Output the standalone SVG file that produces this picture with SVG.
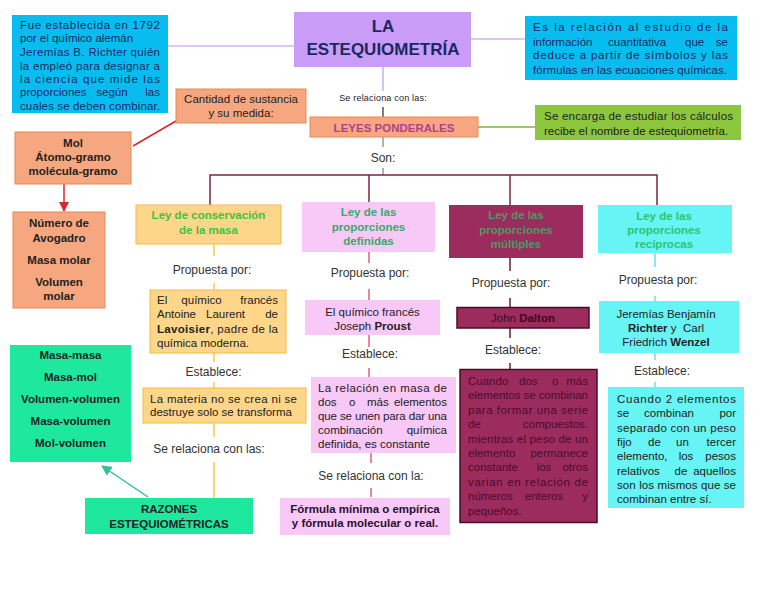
<svg xmlns="http://www.w3.org/2000/svg" width="768" height="594" viewBox="0 0 768 594">
<defs>
<style>
text{font-family:"Liberation Sans",Arial,sans-serif;font-size:11.5px;fill:#222}
.b{font-weight:bold}
.c{text-anchor:middle}
.e{text-anchor:end}
.lbl{font-size:12px;fill:#333}
.navy{fill:#1b2862}
.blue{fill:#07bdf0}
.salmon{fill:#f6a77f;stroke:#e58a56;stroke-width:1}
.yel{fill:#fdd68a;stroke:#f5ba45;stroke-width:1}
.pink{fill:#f8c8f6}
.mar{fill:#9c2b5e}
.cyan{fill:#66f4f4}
.mint{fill:#1ee89e}
.dk{fill:#4d0b2a}
.conn line,.conn polyline{fill:none;stroke-width:1.5}
</style>
<marker id="ar" viewBox="0 0 10 10" refX="9" refY="5" markerWidth="7" markerHeight="7" orient="auto"><path d="M0,0L10,5L0,10z" fill="#d9262c"/></marker>
<marker id="at" viewBox="0 0 10 10" refX="9" refY="5" markerWidth="7" markerHeight="7" orient="auto"><path d="M0,0L10,5L0,10z" fill="#2fbf9f"/></marker>
</defs>
<rect width="768" height="594" fill="#fff"/>

<g class="conn">
<line x1="168" y1="46" x2="294" y2="46" stroke="#d4b3f0"/>
<line x1="471" y1="39" x2="525" y2="39" stroke="#d4b3f0"/>
<line x1="383" y1="67" x2="383" y2="91" stroke="#c9b0f0"/>
<line x1="383" y1="107" x2="383" y2="117" stroke="#555"/>
<line x1="383" y1="137" x2="383" y2="147" stroke="#999"/>
<line x1="383" y1="168" x2="383" y2="175" stroke="#999"/>
<line x1="478" y1="127" x2="535" y2="127" stroke="#7cb342"/>
<line x1="176" y1="121" x2="133" y2="146" stroke="#d9262c"/>
<line x1="64" y1="184" x2="64" y2="211" stroke="#d9262c" marker-end="url(#ar)"/>
<line x1="148" y1="497" x2="102" y2="466" stroke="#2fbf9f" marker-end="url(#at)"/>
<polyline points="210,205 210,175 657,175 657,205" stroke="#7a2448" stroke-width="2"/>
<line x1="369" y1="175" x2="369" y2="202" stroke="#7a2448" stroke-width="2"/>
<line x1="510" y1="175" x2="510" y2="205" stroke="#7a2448" stroke-width="2"/>
<g stroke="#f6c843">
<line x1="214" y1="244" x2="214" y2="256"/><line x1="214" y1="283" x2="214" y2="290"/>
<line x1="214" y1="353" x2="214" y2="362"/><line x1="214" y1="382" x2="214" y2="388"/>
<line x1="214" y1="423" x2="214" y2="437"/><line x1="214" y1="462" x2="214" y2="498"/>
</g>
<g stroke="#e0607f">
<line x1="369" y1="252" x2="369" y2="263"/><line x1="369" y1="289" x2="369" y2="300"/>
<line x1="369" y1="335" x2="369" y2="347"/><line x1="369" y1="368" x2="369" y2="377"/>
<line x1="371" y1="453" x2="371" y2="463"/><line x1="371" y1="488" x2="371" y2="497"/>
</g>
<g stroke="#6a1a3a">
<line x1="510" y1="258" x2="510" y2="271"/><line x1="510" y1="298" x2="510" y2="307"/>
<line x1="510" y1="328" x2="510" y2="338"/><line x1="510" y1="363" x2="510" y2="370"/>
</g>
<g stroke="#62e0ee">
<line x1="655" y1="253" x2="655" y2="267"/><line x1="655" y1="296" x2="655" y2="301"/>
<line x1="655" y1="353" x2="655" y2="360"/><line x1="655" y1="382" x2="655" y2="387"/>
</g>
</g>

<g id="historia">
<rect x="12" y="15" width="156" height="98" class="blue"/>
<text class="navy" x="20" y="29" textLength="140" lengthAdjust="spacing">Fue establecida en 1792</text>
<text class="navy" x="20" y="42.3">por el químico alemán</text>
<text class="navy" x="20" y="56.3" textLength="140" lengthAdjust="spacing">Jeremías B. Richter quién</text>
<text class="navy" x="20" y="69.7" textLength="140" lengthAdjust="spacing">la empleó para designar a</text>
<text class="navy" x="20" y="83" textLength="140" lengthAdjust="spacing">la ciencia que mide las</text>
<text class="navy" x="20" y="96.3">proporciones</text><text class="navy c" x="112" y="96.3">según</text><text class="navy e" x="160" y="96.3">las</text>
<text class="navy" x="20" y="109.7" textLength="140" lengthAdjust="spacing">cuales se deben combinar.</text>
</g>

<g id="titulo">
<rect x="294" y="12" width="177" height="55" fill="#c99cf7"/>
<text class="b c navy" x="383" y="32" style="font-size:17px">LA</text>
<text class="b c navy" x="383" y="54.5" style="font-size:17px">ESTEQUIOMETRÍA</text>
</g>

<g id="definicion">
<rect x="525" y="16" width="212" height="64" class="blue"/>
<text class="navy" x="533" y="31" textLength="195" lengthAdjust="spacing">Es la relación al estudio de la</text>
<text class="navy" x="533" y="45.5">información</text><text class="navy" x="608" y="45.5">cuantitativa</text><text class="navy" x="685" y="45.5">que</text><text class="navy e" x="728" y="45.5">se</text>
<text class="navy" x="533" y="59" textLength="195" lengthAdjust="spacing">deduce a partir de símbolos y las</text>
<text class="navy" x="533" y="74" textLength="194" lengthAdjust="spacing">fórmulas en las ecuaciones químicas.</text>
</g>

<g id="cantidad">
<rect x="176" y="89" width="130" height="34" class="salmon"/>
<text class="c" x="241" y="103">Cantidad de sustancia</text>
<text class="c" x="241" y="117">y su medida:</text>
</g>

<g id="rel-label">
<text class="c" x="383" y="101" style="font-size:9px;letter-spacing:0.2px">Se relaciona con las:</text>
</g>

<g id="leyes">
<rect x="310" y="117" width="168" height="20" class="salmon"/>
<text class="b c" x="394" y="132" style="fill:#b0408f">LEYES PONDERALES</text>
</g>

<g id="calculos">
<rect x="535" y="105" width="206" height="35" fill="#8cc63f"/>
<text x="544" y="120" textLength="189" lengthAdjust="spacing">Se encarga de estudiar los cálculos</text>
<text x="544" y="135">recibe el nombre de estequiometría.</text>
</g>

<g id="son"><text class="lbl c" x="383" y="162">Son:</text></g>

<g id="mol">
<rect x="15" y="132" width="116" height="52" class="salmon"/>
<text class="b c" x="73" y="147">Mol</text>
<text class="b c" x="73" y="161">Átomo-gramo</text>
<text class="b c" x="73" y="175">molécula-gramo</text>
</g>

<g id="avogadro">
<rect x="13" y="212" width="92" height="96" class="salmon"/>
<text class="b c" x="59" y="227">Número de</text>
<text class="b c" x="59" y="242">Avogadro</text>
<text class="b c" x="59" y="264">Masa molar</text>
<text class="b c" x="59" y="286">Volumen</text>
<text class="b c" x="59" y="300">molar</text>
</g>

<g id="masas">
<rect x="10" y="345" width="121" height="117" class="mint"/>
<text class="b c" x="70.5" y="359">Masa-masa</text>
<text class="b c" x="70.5" y="381">Masa-mol</text>
<text class="b c" x="70.5" y="403">Volumen-volumen</text>
<text class="b c" x="70.5" y="425">Masa-volumen</text>
<text class="b c" x="70.5" y="447">Mol-volumen</text>
</g>

<g id="conservacion">
<rect x="136" y="205" width="145" height="39" class="yel"/>
<text class="b c" x="208.5" y="219" style="fill:#3cc43c">Ley de conservación</text>
<text class="b c" x="208.5" y="234" style="fill:#3cc43c">de la masa</text>
<text class="lbl c" x="212" y="274">Propuesta por:</text>
</g>
<g id="lavoisier">
<rect x="150" y="290" width="136" height="63" class="yel"/>
<text x="157" y="304">El</text><text class="c" x="201.5" y="304">químico</text><text class="e" x="278" y="304">francés</text>
<text x="157" y="318">Antoine</text><text class="c" x="225.5" y="318">Laurent</text><text class="e" x="278" y="318">de</text>
<text x="157" y="333" textLength="121" lengthAdjust="spacing"><tspan class="b">Lavoisier</tspan>, padre de la</text>
<text x="157" y="347">química moderna.</text>
<text class="lbl c" x="213.5" y="376">Establece:</text>
</g>
<g id="materia">
<rect x="143" y="388" width="163" height="35" class="yel"/>
<text x="150" y="403" textLength="147" lengthAdjust="spacing">La materia no se crea ni se</text>
<text x="150" y="416">destruye solo se transforma</text>
<text class="lbl c" x="209" y="453">Se relaciona con las:</text>
</g>
<g id="razones">
<rect x="85" y="498" width="168" height="36" class="mint"/>
<text class="b c" x="169" y="512.5">RAZONES</text>
<text class="b c" x="169" y="527.5">ESTEQUIOMÉTRICAS</text>
</g>

<g id="definidas">
<rect x="302" y="202" width="133" height="50" class="pink"/>
<text class="b c" x="368.5" y="216" style="fill:#3aa86a">Ley de las</text>
<text class="b c" x="368.5" y="231" style="fill:#3aa86a">proporciones</text>
<text class="b c" x="368.5" y="245" style="fill:#3aa86a">definidas</text>
<text class="lbl c" x="370" y="277">Propuesta por:</text>
</g>
<g id="proust">
<rect x="305" y="300" width="135" height="35" class="pink"/>
<text class="c" x="372.5" y="316">El químico francés</text>
<text class="c" x="372.5" y="330">Joseph <tspan class="b">Proust</tspan></text>
<text class="lbl c" x="370" y="358">Establece:</text>
</g>
<g id="relacion">
<rect x="311" y="377" width="145" height="76" class="pink"/>
<text x="318" y="392" textLength="129" lengthAdjust="spacing">La relación en masa de</text>
<text x="318" y="406">dos</text><text x="349" y="406">o</text><text x="367" y="406">más</text><text class="e" x="447" y="406">elementos</text>
<text x="318" y="420" textLength="129" lengthAdjust="spacing">que se unen para dar una</text>
<text x="318" y="434">combinación</text><text class="e" x="447" y="434">química</text>
<text x="318" y="448">definida, es constante</text>
<text class="lbl c" x="371" y="480">Se relaciona con la:</text>
</g>
<g id="formula">
<rect x="280" y="498" width="170" height="37" class="pink"/>
<text class="b c" x="365" y="513" style="fill:#2a1030">Fórmula mínima o empírica</text>
<text class="b c" x="365" y="527" style="fill:#2a1030">y fórmula molecular o real.</text>
</g>

<g id="multiples">
<rect x="449" y="205" width="134" height="53" class="mar"/>
<text class="b c" x="516" y="219" style="fill:#4f9a64">Ley de las</text>
<text class="b c" x="516" y="234" style="fill:#4f9a64">proporciones</text>
<text class="b c" x="516" y="248" style="fill:#4f9a64">múltiples</text>
<text class="lbl c" x="511" y="287">Propuesta por:</text>
</g>
<g id="dalton">
<rect x="457" y="307.5" width="132" height="20.5" class="mar" stroke="#4a0d27" stroke-width="1.5"/>
<text class="c" x="523" y="322" style="fill:#3d0a20">John <tspan class="b">Dalton</tspan></text>
<text class="lbl c" x="513" y="354">Establece:</text>
</g>
<g id="cuando-dos">
<rect x="460" y="369.5" width="137" height="153" class="mar" stroke="#4a0d27" stroke-width="1.5"/>
<text class="dk" x="468" y="385">Cuando</text><text class="dk" x="519" y="385">dos</text><text class="dk" x="552" y="385">o</text><text class="dk e" x="588" y="385">más</text>
<text class="dk" x="468" y="399.4" textLength="120" lengthAdjust="spacing">elementos se combinan</text>
<text class="dk" x="468" y="413.8" textLength="120" lengthAdjust="spacing">para formar una serie</text>
<text class="dk" x="468" y="428.2">de</text><text class="dk e" x="588" y="428.2">compuestos.</text>
<text class="dk" x="468" y="442.6" textLength="120" lengthAdjust="spacing">mientras el peso de un</text>
<text class="dk" x="468" y="457">elemento</text><text class="dk e" x="588" y="457">permanece</text>
<text class="dk" x="468" y="471.4">constante</text><text class="dk c" x="544" y="471.4">los</text><text class="dk e" x="588" y="471.4">otros</text>
<text class="dk" x="468" y="485.8" textLength="120" lengthAdjust="spacing">varian en relación de</text>
<text class="dk" x="468" y="500.2">números</text><text class="dk c" x="544" y="500.2">enteros</text><text class="dk e" x="588" y="500.2">y</text>
<text class="dk" x="468" y="514.6">pequeños.</text>
</g>

<g id="reciprocas">
<rect x="598" y="205" width="134" height="48" class="cyan"/>
<text class="b c" x="664" y="220" style="fill:#2ec470">Ley de las</text>
<text class="b c" x="664" y="234" style="fill:#2ec470">proporciones</text>
<text class="b c" x="664" y="248" style="fill:#2ec470">recíprocas</text>
<text class="lbl c" x="658" y="284">Propuesta por:</text>
</g>
<g id="richter">
<rect x="599" y="301" width="140" height="52" class="cyan"/>
<text class="c" x="666" y="318">Jeremías Benjamín</text>
<text class="c" x="666" y="332" xml:space="preserve"><tspan class="b">Richter</tspan> y  Carl</text>
<text class="c" x="666" y="346">Friedrich <tspan class="b">Wenzel</tspan></text>
<text class="lbl c" x="662" y="375">Establece:</text>
</g>
<g id="cuando-2">
<rect x="608" y="387" width="136" height="121" class="cyan"/>
<text x="617" y="403" textLength="119" lengthAdjust="spacing">Cuando 2 elementos</text>
<text x="617" y="417.3">se</text><text class="c" x="669" y="417.3">combinan</text><text class="e" x="736" y="417.3">por</text>
<text x="617" y="431.6" textLength="119" lengthAdjust="spacing">separado con un peso</text>
<text x="617" y="445.9">fijo</text><text x="648" y="445.9">de</text><text x="676" y="445.9">un</text><text class="e" x="736" y="445.9">tercer</text>
<text x="617" y="460.2">elemento,</text><text class="c" x="686" y="460.2">los</text><text class="e" x="736" y="460.2">pesos</text>
<text x="617" y="474.5">relativos</text><text class="c" x="681" y="474.5">de</text><text class="e" x="736" y="474.5">aquellos</text>
<text x="617" y="488.8" textLength="119" lengthAdjust="spacing">son los mismos que se</text>
<text x="617" y="503.1">combinan entre sí.</text>
</g>
</svg>
